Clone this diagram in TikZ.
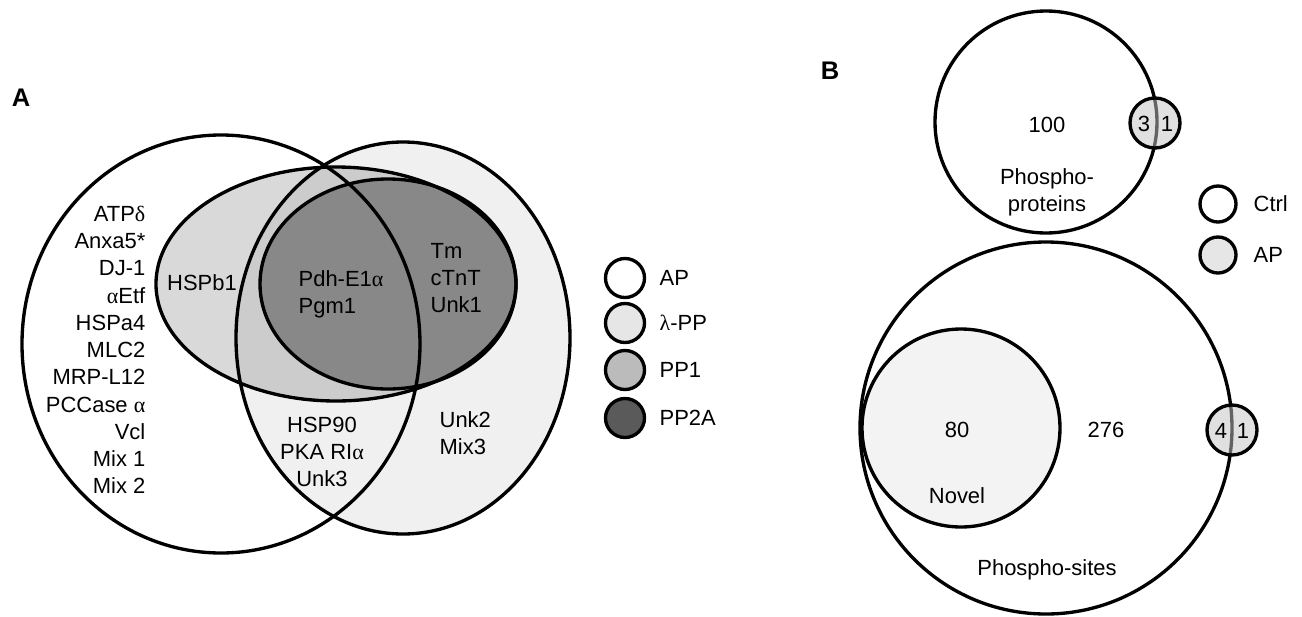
\documentclass[tikz,border=0pt]{standalone}
\usepackage{fontspec}
\setmainfont{Liberation Sans}
\newfontfamily\grk{Liberation Serif}
\newcommand{\gk}[1]{{\grk #1}}
\definecolor{lppgray}{RGB}{240,240,240}
\definecolor{pptwogray}{RGB}{136,136,136}
\definecolor{legone}{RGB}{230,230,230}
\definecolor{legtwo}{RGB}{187,187,187}
\definecolor{legthree}{RGB}{90,90,90}
\definecolor{apgray}{RGB}{195,195,195}
\definecolor{novelgray}{RGB}{243,243,243}
\begin{document}
\begin{tikzpicture}[x=0.02cm, y=-0.02cm, line width=1.9pt,
    every node/.style={font=\fontsize{12.5}{15.5}\selectfont, inner sep=0pt},
    panel/.style={font=\bfseries\fontsize{14.5}{16}\selectfont},
    apdot/.style={fill=apgray, fill opacity=0.51}]
    \useasboundingbox (0,0) rectangle (1302,616);

    % Panel A: shaded sets
    \fill[lppgray] (403,338) ellipse [x radius=167, y radius=196];
    \fill[black, fill opacity=0.15] (336,284) ellipse [x radius=180, y radius=117];
    \fill[pptwogray] (388,284) ellipse [x radius=128, y radius=105];

    % Panel A: outlines
    \draw (221,344) ellipse [x radius=199, y radius=209];
    \draw (403,338) ellipse [x radius=167, y radius=196];
    \draw (336,284) ellipse [x radius=180, y radius=117];
    \draw (388,284) ellipse [x radius=128, y radius=105];

    % Panel A: labels
    \node[panel] (labA) at (21,98) {A};
    \node[anchor=east, align=right] (aponly) at (147,350)
        {ATP\gk{δ}\\Anxa5*\\DJ-1\\\gk{α}Etf\\HSPa4\\MLC2\\MRP-L12\\PCCase \gk{α}\\Vcl\\Mix 1\\Mix 2};
    \node (hspb) at (202,283) {HSPb1};
    \node[anchor=west, align=left] (pdh) at (297,294) {Pdh-E1\gk{α}\\Pgm1};
    \node[anchor=west, align=left] (tm) at (429,278) {Tm\\cTnT\\Unk1};
    \node[align=center] (hsp) at (322,452) {HSP90\\PKA RI\gk{α}\\Unk3};
    \node[anchor=west, align=left] (unk) at (438,433) {Unk2\\Mix3};

    % Legend A
    \foreach \y/\c/\t [count=\i] in {278/white/AP, 323/legone/\gk{λ}-PP,
            370/legtwo/PP1, 418/legthree/PP2A} {
        \draw[fill=\c] (625,\y) circle [radius=19.5];
        \node[anchor=west] (legA\i) at (658,\y) {\t};
    }

    % Panel B: phospho-proteins
    \node[panel] (labB) at (830,71) {B};
    \draw (1046,122) circle [radius=111];
    \draw[apdot] (1155,123) circle [radius=25];
    \node (prot) at (1047,125) {100};
    \node[align=center] (protlbl) at (1047,192) {Phospho-\\proteins};
    \node (protA) at (1144,124) {3};
    \node (protB) at (1167,124) {1};

    % Panel B: phospho-sites
    \draw (1046,428) circle [radius=186];
    \draw[fill=novelgray] (961,428) circle [radius=99];
    \draw[apdot] (1232,430) circle [radius=25];
    \node (novnum) at (957,430) {80};
    \node (novlbl) at (957,496) {Novel};
    \node (sitenum) at (1106,430) {276};
    \node (sitelbl) at (1047,570) {Phospho-sites};
    \node (siteA) at (1221,431) {4};
    \node (siteB) at (1243,431) {1};

    % Legend B
    \draw (1218,204) circle [radius=18];
    \node[anchor=west] (legCtrl) at (1252,204) {Ctrl};
    \draw[fill=legone] (1218,255) circle [radius=18];
    \node[anchor=west] (legAP) at (1252,255) {AP};
\end{tikzpicture}
\end{document}
